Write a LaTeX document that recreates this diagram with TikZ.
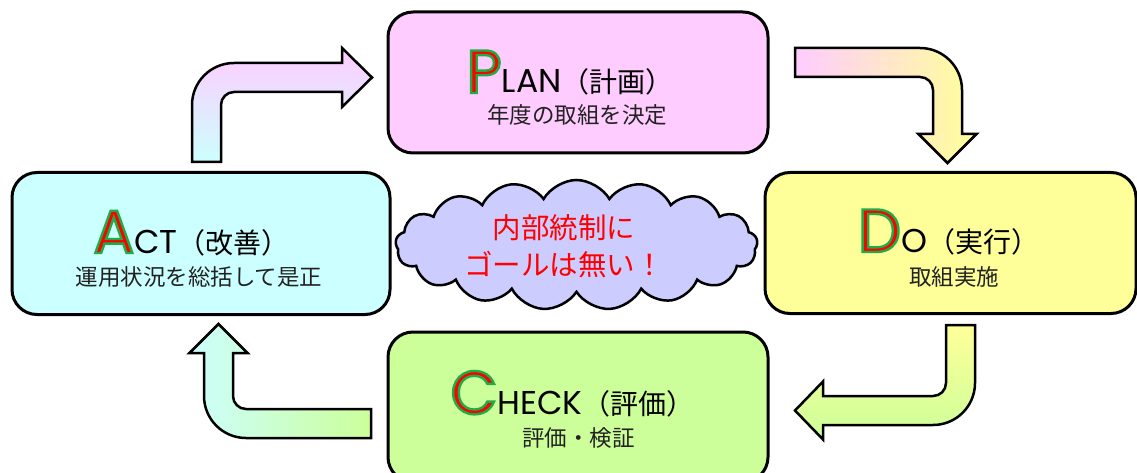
\documentclass[tikz,border=0pt]{standalone}
\usepackage{fontspec}
\setmainfont{Noto Sans CJK JP}
\newfontfamily\latfont{Poppins}
\usetikzlibrary{shapes.symbols}
\definecolor{pinkc}{HTML}{FFCCFF}
\definecolor{cyanc}{HTML}{CCFFFF}
\definecolor{yellowc}{HTML}{FFFF99}
\definecolor{greenc}{HTML}{CCFF99}
\definecolor{cloudc}{HTML}{CCCCFF}
\definecolor{subc}{HTML}{222222}
\newcommand{\bigletter}[1]{{\latfont\fontsize{61}{61}\selectfont\color{red}%
 \special{pdf:literal direct 2 Tr 2.4 w 0.13 0.67 0.27 RG}\smash{#1}\special{pdf:literal direct 0 Tr}}}
\newcommand{\lat}[1]{{\latfont\fontsize{33}{33}\selectfont #1}}
\newcommand{\jtl}[1]{{\fontsize{28}{28}\selectfont #1}}
\tikzset{
  phasebox/.style={draw=black, line width=3pt, rounded corners=25pt, inner sep=0pt},
  titletext/.style={anchor=base, inner sep=0pt, text=black},
  subtext/.style={anchor=base, inner sep=0pt, text=subc, font=\fontsize{22.5}{22.5}\selectfont},
  bentarrow/.style={draw=black, line width=2.5pt, line join=miter},
}
\begin{document}
\begin{tikzpicture}[x=1pt, y=-1pt]
\useasboundingbox (0,0) rectangle (1137,473);
\clip (0,0) rectangle (1137,473);
% boxes
\node[phasebox, fill=pinkc, minimum width=380pt, minimum height=141pt] (plan) at (578,82.5) {};
\node[phasebox, fill=cyanc, minimum width=378pt, minimum height=142pt] (act) at (201,243.5) {};
\node[phasebox, fill=yellowc, minimum width=371pt, minimum height=141pt] (do) at (950.5,243) {};
\node[phasebox, fill=greenc, minimum width=380pt, minimum height=150pt] (check) at (578,407) {};
% texts
\node[titletext] (plant) at (570,93) {\bigletter{P}\lat{LAN}\jtl{（計画）}};
\node[subtext] (plans) at (577,124) {年度の取組を決定};
\node[titletext] (actt) at (191.5,253) {\bigletter{A}\lat{CT}\jtl{（改善）}};
\node[subtext] (acts) at (199,285) {運用状況を総括して是正};
\node[titletext] (dot) at (948.5,252) {\bigletter{D}\lat{O}\jtl{（実行）}};
\node[subtext] (dos) at (954,285) {取組実施};
\node[titletext] (checkt) at (572.5,414) {\bigletter{C}\lat{HECK}\jtl{（評価）}};
\node[subtext] (checks) at (578.5,446) {評価・検証};
% cloud
\node[cloud, cloud puffs=17, cloud puff arc=120, aspect=2.8, draw=black, line width=2.5pt, fill=cloudc,
      minimum width=362pt, minimum height=130pt, inner sep=0pt] (goal) at (576.5,245) {};
\node[align=center, text=red, inner sep=0pt, font=\fontsize{28.5}{37}\selectfont] (goalt) at (564,246) {内部統制に\\ゴールは無い！};
% arrows
\path[bentarrow, top color=pinkc, bottom color=cyanc]
  (192,162) -- (192,105) arc[start angle=180, end angle=270, radius=42]
  -- (342,63) -- (342,48) -- (372,77.5) -- (342,107) -- (342,92) -- (234,92)
  arc[start angle=270, end angle=180, radius=13] -- (221,162) -- cycle;
\path[bentarrow, left color=pinkc, right color=yellowc]
  (795,48) -- (920,48) arc[start angle=270, end angle=360, radius=42]
  -- (962,134) -- (976.5,134) -- (947.5,163) -- (918.5,134) -- (933,134) -- (933,90)
  arc[start angle=0, end angle=-90, radius=13] -- (795,77) -- cycle;
\path[bentarrow, top color=yellowc, bottom color=greenc]
  (946,325) -- (975,325) -- (975,383) arc[start angle=0, end angle=90, radius=42]
  -- (823,425) -- (823,439.5) -- (795,410.5) -- (823,381.5) -- (823,396) -- (933,396)
  arc[start angle=90, end angle=0, radius=13] -- cycle;
\path[bentarrow, left color=cyanc, right color=greenc]
  (371,409) -- (246,409) arc[start angle=90, end angle=180, radius=13]
  -- (233,353) -- (247.5,353) -- (218.5,324) -- (189.5,353) -- (204,353) -- (204,396)
  arc[start angle=180, end angle=90, radius=42] -- (371,438) -- cycle;
\end{tikzpicture}
\end{document}
